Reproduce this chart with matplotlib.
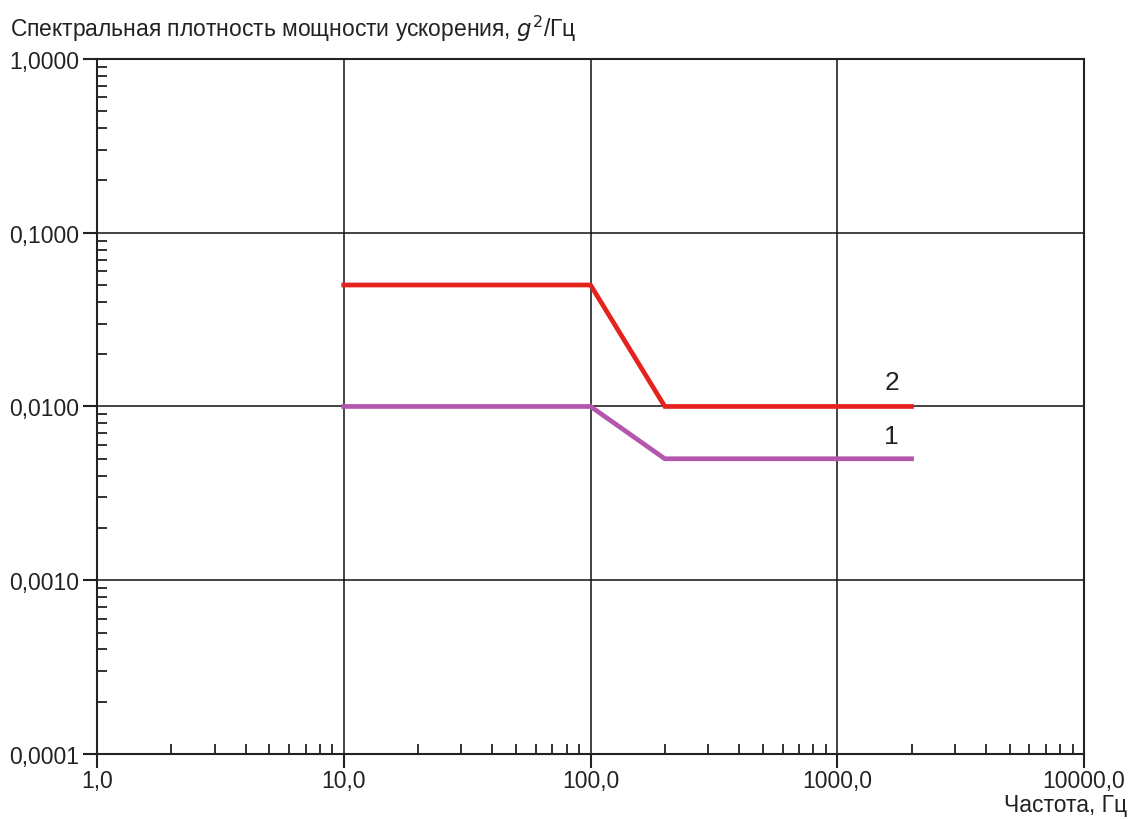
import matplotlib
matplotlib.use("Agg")
import matplotlib.pyplot as plt
from matplotlib.ticker import LogLocator, NullFormatter

plt.rcParams['font.family'] = ['Liberation Sans', 'DejaVu Sans']

# curve 2 (red) and curve 1 (purple)
freq = [10, 100, 200, 2000]
psd_2 = [0.05, 0.05, 0.01, 0.01]
psd_1 = [0.01, 0.01, 0.005, 0.005]

x_ticks = [1, 10, 100, 1000, 10000]
x_labels = ['1,0', '10,0', '100,0', '1000,0', '10000,0']
y_ticks = [0.0001, 0.001, 0.01, 0.1, 1]
y_labels = ['0,0001', '0,0010', '0,0100', '0,1000', '1,0000']

fig = plt.figure(figsize=(11.33, 8.2), dpi=100)
ax = fig.add_axes([0.0856, 0.0793, 0.8712, 0.8476])

ax.plot(freq, psd_2, color='#e5231e', lw=3.4, solid_joinstyle='miter', zorder=3)
ax.plot(freq, psd_1, color='#b456ae', lw=3.4, solid_joinstyle='miter', zorder=3)

ax.set_xscale('log')
ax.set_yscale('log')
ax.set_xlim(1, 10000)
ax.set_ylim(0.0001, 1)

ax.set_xticks(x_ticks)
ax.set_xticklabels(x_labels)
ax.set_yticks(y_ticks)
ax.set_yticklabels(y_labels)
ax.xaxis.set_minor_locator(LogLocator(base=10, subs=range(2, 10)))
ax.yaxis.set_minor_locator(LogLocator(base=10, subs=range(2, 10)))
ax.xaxis.set_minor_formatter(NullFormatter())
ax.yaxis.set_minor_formatter(NullFormatter())

ax.tick_params(which='major', direction='out', length=10, width=1.5,
               labelsize=16.5, colors='#222222')
ax.tick_params(axis='x', which='major', pad=1)
ax.tick_params(axis='y', which='major', pad=3)
ax.tick_params(which='minor', direction='in', length=7, width=1.3, color='#222222')

ax.grid(True, which='major', color='#111111', lw=1.1)
for s in ax.spines.values():
    s.set_linewidth(1.5)
    s.set_color('#222222')

ax.text(1660, 0.0138, '2', fontsize=19, ha='center', va='center', color='#222222')
ax.text(1660, 0.0068, '1', fontsize=19, ha='center', va='center', color='#222222')

fig.text(0.009, 0.965, 'Спектральная плотность мощности ускорения, $g^2$/Гц',
         fontsize=16.5, ha='left', va='center', color='#222222')
fig.text(0.995, 0.004, 'Частота, Гц', fontsize=16.5, ha='right', va='bottom',
         color='#222222')

fig.savefig('out.png', dpi=100)
